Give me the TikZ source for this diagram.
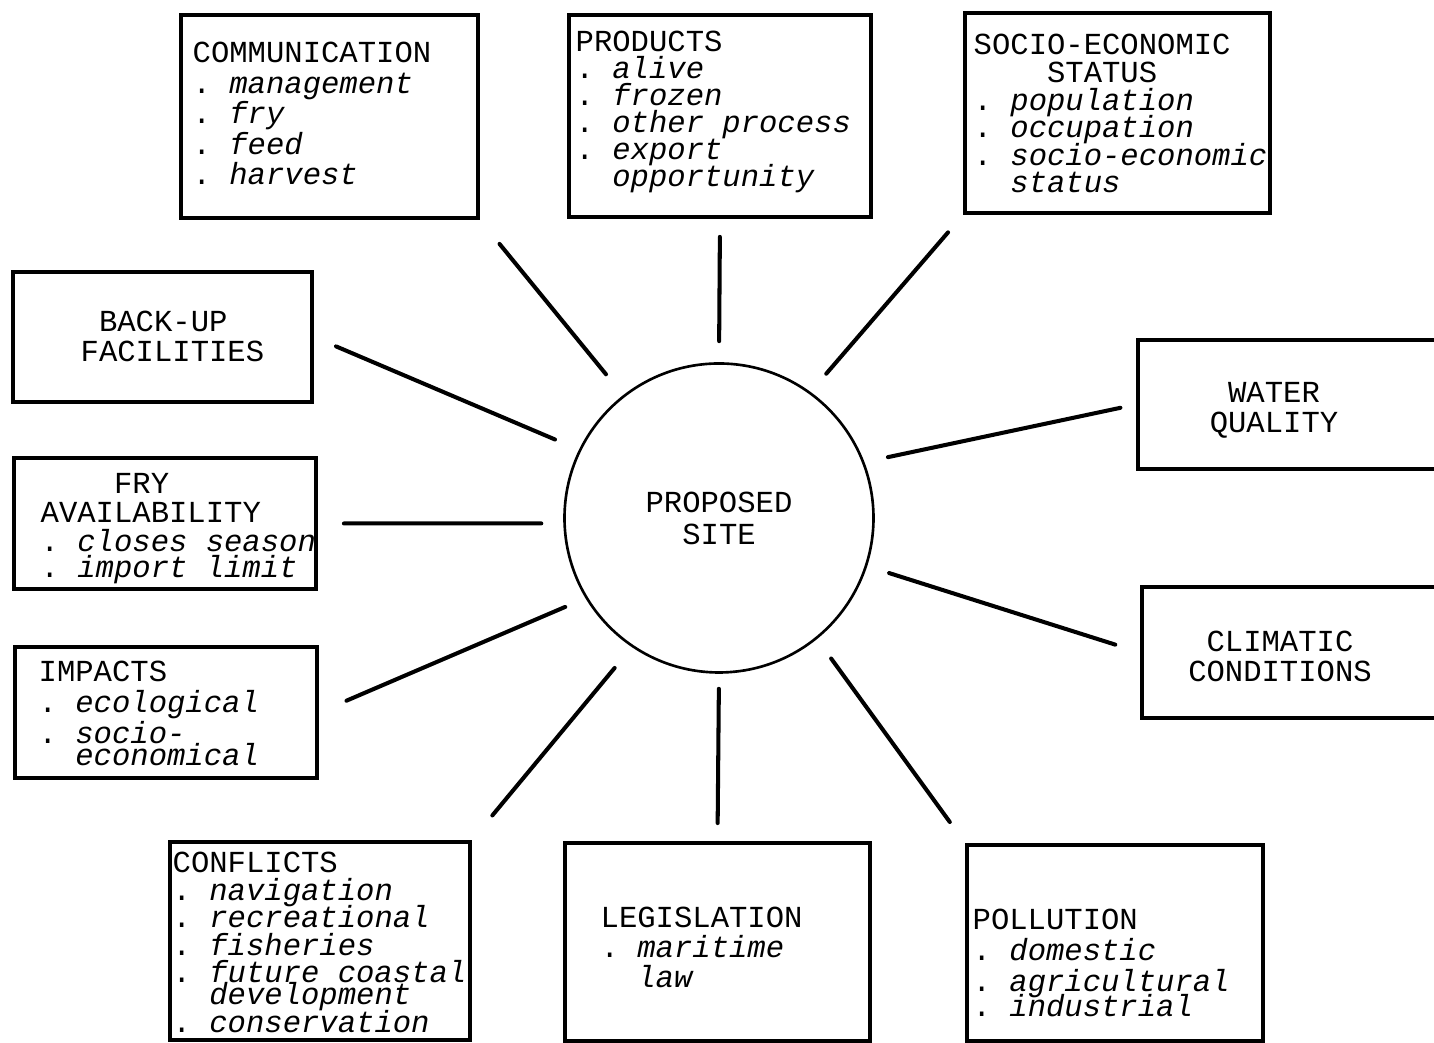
\documentclass[tikz,border=0pt]{standalone}
\usepackage{fontspec}
\setmonofont{Liberation Mono}
\setlength{\lineskiplimit}{-20pt}
\setlength{\normallineskiplimit}{-20pt}
\newcommand{\boxfont}[1]{\ttfamily\fontsize{8.7pt}{#1}\selectfont\lineskiplimit=-20pt\relax}
\newcommand{\tsp}{\hspace{0.6em}}
\newcommand{\itm}[1]{.\hspace*{0.6em}\textit{#1}}
\newcommand{\itmcont}[1]{\hspace*{1.2em}\textit{#1}}
\begin{document}
\begin{tikzpicture}[line cap=round,
		box/.style={draw, line width=1.1pt, inner sep=0pt},
		txt/.style={anchor=base west, text width=3.2cm, align=left, inner sep=0pt},
		ctxt/.style={anchor=base, text width=3cm, align=center, inner sep=0pt},
		spoke/.style={line width=1.15pt}]
	\useasboundingbox (0,0) rectangle (14.34,10.43);
	
	\node[circle, draw, line width=0.75pt, minimum size=3.09cm, inner sep=0pt, align=center, font=\boxfont{9.1pt}] (site) at (7.19,5.25) {PROPOSED\\SITE};
	
	\node[box, minimum width=2.97cm, minimum height=2.03cm] (comm) at (3.295,9.265) {};
	\node[box, minimum width=3.02cm, minimum height=2.02cm] (prod) at (7.20,9.27) {};
	\node[box, minimum width=3.05cm, minimum height=2.00cm] (socio) at (11.175,9.30) {};
	\node[box, minimum width=2.99cm, minimum height=1.30cm] (backup) at (1.625,7.06) {};
	\node[box, minimum width=3.12cm, minimum height=1.29cm] (water) at (12.94,6.385) {};
	\node[box, minimum width=3.02cm, minimum height=1.31cm] (fry) at (1.65,5.195) {};
	\node[box, minimum width=3.08cm, minimum height=1.31cm] (climatic) at (12.96,3.905) {};
	\node[box, minimum width=3.02cm, minimum height=1.31cm] (impacts) at (1.66,3.305) {};
	\node[box, minimum width=3.00cm, minimum height=1.98cm] (conflicts) at (3.20,1.02) {};
	\node[box, minimum width=3.05cm, minimum height=1.98cm] (legis) at (7.175,1.01) {};
	\node[box, minimum width=2.96cm, minimum height=1.96cm] (pollution) at (11.15,1.00) {};
	
	\node[txt, font=\boxfont{8.68pt}] (commtxt) at (1.92,9.80) {COMMUNICATION\\\itm{management}\\\itm{fry}\\\itm{feed}\\\itm{harvest}};
	\node[txt, font=\boxfont{7.68pt}] (prodtxt) at (5.75,9.91) {PRODUCTS\\\itm{alive}\\\itm{frozen}\\\itm{other\tsp process}\\\itm{export}\\\itmcont{opportunity}};
	\node[txt, font=\boxfont{7.85pt}] (sociotxt) at (9.73,9.88) {SOCIO-ECONOMIC\\\hspace*{2.4em}STATUS\\\itm{population}\\\itm{occupation}\\\itm{socio-economic}\\\itmcont{status}};
	\node[txt, font=\boxfont{8.5pt}] (backuptxt) at (0.80,7.11) {\hspace*{0.6em}BACK-UP\\FACILITIES};
	\node[ctxt, font=\boxfont{8.5pt}] (watertxt) at (12.74,6.40) {WATER\\QUALITY};
	\node[txt, font=\boxfont{8.25pt}] (frytxt) at (0.40,5.49) {\hspace*{2.4em}FRY\\AVAILABILITY\\\itm{closes\tsp season}\\[-1.1pt]\itm{import\tsp limit}};
	\node[ctxt, font=\boxfont{8.5pt}] (climatictxt) at (12.80,3.91) {CLIMATIC\\CONDITIONS};
	\node[txt, font=\boxfont{8.8pt}] (impactstxt) at (0.38,3.61) {IMPACTS\\\itm{ecological}\\\itm{socio-}\\[-2.6pt]\itmcont{economical}};
	\node[txt, font=\boxfont{7.82pt}] (conflictstxt) at (1.72,1.70) {CONFLICTS\\\itm{navigation}\\\itm{recreational}\\\itm{fisheries}\\\itm{future\tsp coastal}\\[-1.56pt]\itmcont{development}\\\itm{conservation}};
	\node[txt, font=\boxfont{8.5pt}] (legistxt) at (6.00,1.15) {LEGISLATION\\\itm{maritime}\\\itmcont{law}};
	\node[txt, font=\boxfont{8.8pt}] (pollutiontxt) at (9.72,1.13) {POLLUTION\\\itm{domestic}\\\itm{agricultural}\\[-1.7pt]\itm{industrial}};
	
	\foreach \ang/\tgt/\s/\e in {128/comm.south east/0.27/0.31, north/prod.south/0.21/0.18, 54/socio.south west/0.24/0.23,
			154/backup.east/0.26/0.24, 21/water.west/0.24/0.16, 182/fry.east/0.22/0.26, 342/climatic.west/0.23/0.26,
			211/impacts.east/0.22/0.30, 236/conflicts.north east/0.27/0.32, south/legis.north/0.15/0.18, 309/pollution.north west/0.24/0.26} {
		\draw[spoke, shorten <=\s cm, shorten >=\e cm] (site.\ang) -- (\tgt);
	}
\end{tikzpicture}
\end{document}
